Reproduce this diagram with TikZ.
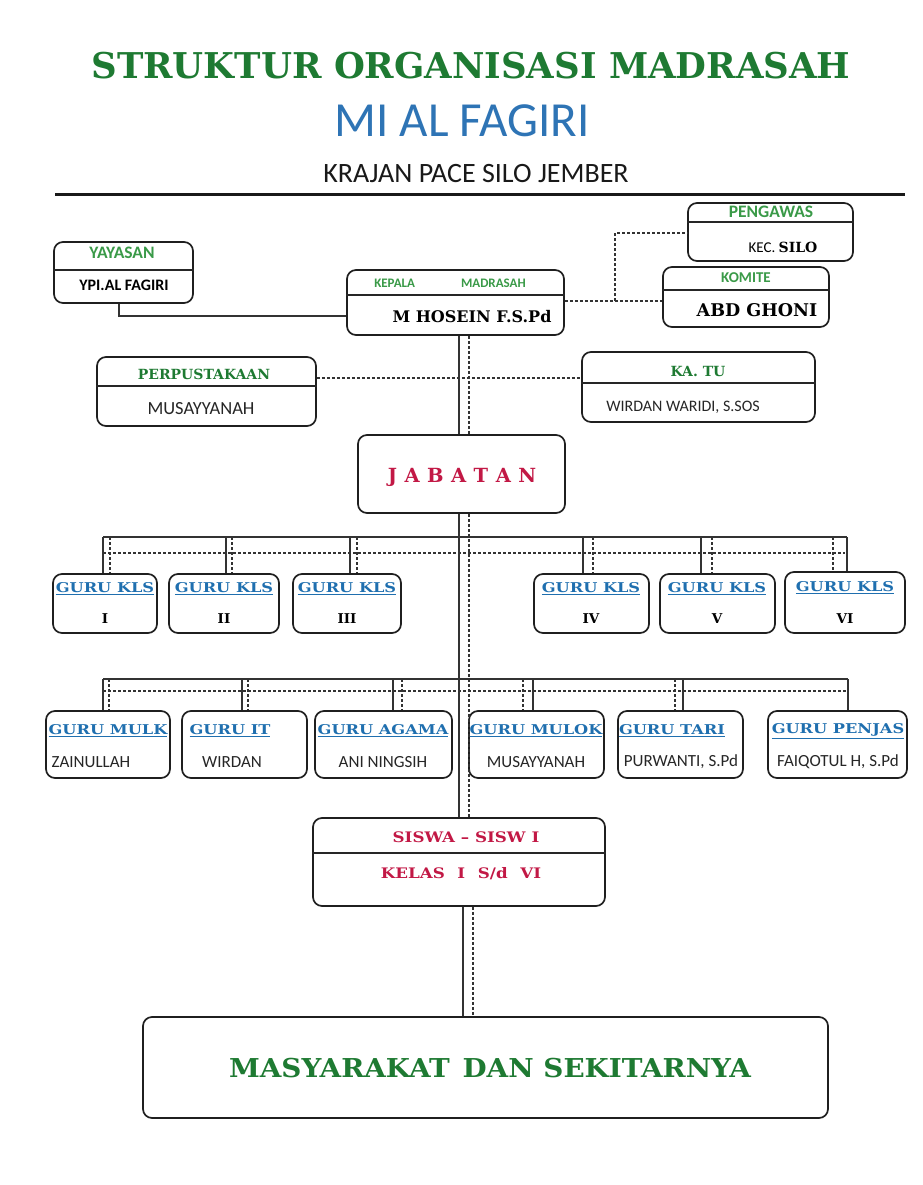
\documentclass[tikz,border=0pt]{standalone}
\usepackage{fontspec}
\setmainfont{Carlito}
\newfontfamily\hdfont{DejaVu Serif}
\definecolor{dgreen}{HTML}{1E7A32}
\definecolor{lgreen}{HTML}{3A9A48}
\definecolor{tblue}{HTML}{2E74B5}
\definecolor{gblue}{HTML}{1F6FAF}
\definecolor{crim}{HTML}{C21845}
\newcommand{\obox}[5]{\node[orgbox, minimum width=#4pt-#2pt, minimum height=#5pt-#3pt] (#1) at ({(#2+#4)/2},{(#3+#5)/2}) {};}
\newcommand{\odiv}[2]{\draw[divl] (#1.west |- 0,#2) -- (#1.east |- 0,#2);}
\newcommand{\fs}[1]{\fontsize{#1}{#1}\selectfont}
\newcommand{\gh}[1]{\scalebox{1.2}[1]{\underline{#1}}}
\begin{document}
\begin{tikzpicture}[x=1pt,y=-1pt,
  orgbox/.style={draw=black!88, line width=1.7pt, rounded corners=9pt, fill=white, inner sep=0pt},
  divl/.style={draw=black!85, line width=1.4pt},
  conn/.style={draw=black!80, line width=1.3pt},
  dconn/.style={draw=black!80, line width=1.3pt, dash pattern=on 3pt off 2pt},
  gl/.style={text=lgreen, font=\bfseries\fs{17.5}, inner sep=0pt},
  bl/.style={text=black, font=\bfseries\fs{16}, inner sep=0pt},
  sn/.style={text=black!85, font=\fs{17}, inner sep=0pt},
  hvg/.style={text=dgreen, font=\hdfont\bfseries\fs{14}, inner sep=0pt},
  hvb/.style={text=black, font=\hdfont\bfseries\fs{16}, inner sep=0pt},
  hvr/.style={text=crim, font=\hdfont\bfseries\fs{14.5}, inner sep=0pt},
  ghead/.style={text=gblue, font=\hdfont\bfseries\fs{13.5}, inner sep=0pt},
  numt/.style={text=black, font=\hdfont\bfseries\fs{13.5}, inner sep=0pt}]
\useasboundingbox (0,0) rectangle (922,1185);
\fill[white] (0,0) rectangle (922,1185);

% titles
\node[text=dgreen, font=\hdfont\bfseries\fs{35.5}, inner sep=0pt] (title) at (471,66) {STRUKTUR ORGANISASI MADRASAH};
\node[text=tblue, font=\fs{49}, inner sep=0pt] (mi) at (462,121) {MI AL FAGIRI};
\node[text=black!90, font=\fs{28}, inner sep=0pt] (kr) at (476,174) {KRAJAN PACE SILO JEMBER};
\draw[line width=3pt, black!90] (55,195) -- (905,195);

\coordinate (j1) at (615,301);
\coordinate (mv1) at (459,0);
\coordinate (mv2) at (469,0);
\coordinate (mv3) at (463,0);
\coordinate (mv4) at (473,0);

% top boxes
\obox{yay}{54}{242}{193}{303}\odiv{yay}{270}
\node[gl] (yayT) at (122,253) {YAYASAN};
\node[bl] (yayB) at (124,285) {YPI.AL FAGIRI};

\obox{kep}{347}{270}{564}{335}\odiv{kep}{295}
\node[gl, font=\bfseries\fs{13}] (kepT) at (450,283) {KEPALA\hspace{46pt}MADRASAH};
\node[hvb] (kepB) at (472,317) {M HOSEIN F.S.Pd};

\obox{pen}{688}{203}{853}{261}\odiv{pen}{222}
\node[gl] (penT) at (771,212) {PENGAWAS};
\node[inner sep=0pt] (penB) at (783,247) {\fs{15}KEC. {\hdfont\bfseries\fs{14}SILO}};

\obox{kom}{663}{267}{829}{327}\odiv{kom}{290}
\node[gl, font=\bfseries\fs{15}] (komT) at (746,278) {KOMITE};
\node[hvb, font=\hdfont\bfseries\fs{17.5}] (komB) at (757,310) {ABD GHONI};

\draw[conn] (yay.south -| 119,0) |- (kep.west |- 0,316);
\draw[dconn] (kep.east |- j1) -- (kom.west |- j1);
\draw[dconn] (j1) |- (pen.west |- 0,233);

\obox{perp}{97}{357}{316}{426}\odiv{perp}{386}
\node[hvg] (perpT) at (204,374) {PERPUSTAKAAN};
\node[sn, font=\fs{18.5}] (perpB) at (201,409) {MUSAYYANAH};

\obox{katu}{582}{352}{815}{422}\odiv{katu}{383}
\node[hvg] (katuT) at (698,371) {KA. TU};
\node[sn, font=\fs{16}] (katuB) at (683,407) {WIRDAN WARIDI, S.SOS};

\obox{jab}{358}{435}{565}{513}
\node[text=crim, font=\hdfont\bfseries\fs{19.5}, inner sep=0pt] (jabT) at (462,477) {J\hspace{7.5pt}A\hspace{7.5pt}B\hspace{7.5pt}A\hspace{7.5pt}T\hspace{7.5pt}A\hspace{7.5pt}N};

\draw[dconn] (perp.east |- 0,378) -- (katu.west |- 0,378);
\draw[conn] (kep.south -| mv1) -- (jab.north -| mv1);
\draw[dconn] (kep.south -| mv2) -- (jab.north -| mv2);

% row 1
\obox{k1}{53}{574}{157}{633}
\obox{k2}{169}{574}{279}{633}
\obox{k3}{293}{574}{401}{633}
\obox{k4}{534}{574}{649}{633}
\obox{k5}{660}{574}{775}{633}
\obox{k6}{785}{572}{905}{633}
\node[ghead] (k1T) at (105,589) {\gh{GURU KLS}};
\node[ghead] (k2T) at (224,589) {\gh{GURU KLS}};
\node[ghead] (k3T) at (347,589) {\gh{GURU KLS}};
\node[ghead] (k4T) at (591,589) {\gh{GURU KLS}};
\node[ghead] (k5T) at (717,589) {\gh{GURU KLS}};
\node[ghead] (k6T) at (845,588) {\gh{GURU KLS}};
\node[numt] (k1B) at (105,619) {I};
\node[numt] (k2B) at (224,619) {II};
\node[numt] (k3B) at (347,619) {III};
\node[numt] (k4B) at (591,619) {IV};
\node[numt] (k5B) at (717,619) {V};
\node[numt] (k6B) at (845,619) {VI};

\coordinate (r1a) at (103,537);
\coordinate (r1b) at (847,537);
\coordinate (r1c) at (103,553);
\coordinate (r1d) at (845,553);
\draw[conn] (r1a) -- (r1b);
\draw[dconn] (r1c) -- (r1d);
\foreach \x/\b in {103/k1,226/k2,350/k3,583/k4,701/k5,847/k6}
  \draw[conn] (\x,537) -- (\x,537 |- \b.north);
\foreach \x/\b in {110/k1,232/k2,357/k3,593/k4,712/k5,833/k6}
  \draw[dconn] (\x,537) -- (\x,537 |- \b.north);

% row 2
\obox{m1}{46}{711}{170}{778}
\obox{m2}{182}{711}{307}{778}
\obox{m3}{315}{711}{452}{778}
\obox{m4}{469}{711}{604}{778}
\obox{m5}{618}{711}{743}{778}
\obox{m6}{768}{711}{907}{778}
\node[ghead] (m1T) at (108,731) {\gh{GURU MULK}};
\node[ghead] (m2T) at (230,731) {\gh{GURU IT}};
\node[ghead] (m3T) at (383,731) {\gh{GURU AGAMA}};
\node[ghead] (m4T) at (536,731) {\gh{GURU MULOK}};
\node[ghead] (m5T) at (672,731) {\gh{GURU TARI}};
\node[ghead] (m6T) at (838,731) {\gh{GURU PENJAS}};
\node[sn] (m1B) at (91,762) {ZAINULLAH};
\node[sn] (m2B) at (232,762) {WIRDAN};
\node[sn] (m3B) at (383,762) {ANI NINGSIH};
\node[sn] (m4B) at (536,762) {MUSAYYANAH};
\node[sn] (m5B) at (681,762) {PURWANTI, S.Pd};
\node[sn] (m6B) at (838,762) {FAIQOTUL H, S.Pd};

\coordinate (r2a) at (103,679);
\coordinate (r2b) at (848,679);
\coordinate (r2c) at (103,691);
\coordinate (r2d) at (848,691);
\draw[conn] (r2a) -- (r2b);
\draw[dconn] (r2c) -- (r2d);
\foreach \x/\b in {103/m1,242/m2,393/m3,533/m4,683/m5,848/m6}
  \draw[conn] (\x,679) -- (\x,679 |- \b.north);
\foreach \x/\b in {109/m1,248/m2,402/m3,523/m4,675/m5}
  \draw[dconn] (\x,679) -- (\x,679 |- \b.north);

% siswa
\obox{sis}{313}{818}{605}{906}\odiv{sis}{853}
\node[hvr] (sisT) at (466,837) {\scalebox{1.15}[1]{SISWA – SISW I}};
\node[hvr] (sisB) at (461,874) {\scalebox{1.15}[1]{KELAS\hspace{11pt}I\hspace{11pt}S/d\hspace{11pt}VI}};

\draw[conn] (jab.south -| mv1) -- (sis.north -| mv1);
\draw[dconn] (jab.south -| mv2) -- (sis.north -| mv2);

% masyarakat
\obox{mas}{143}{1017}{828}{1118}
\node[text=dgreen, font=\hdfont\bfseries\fs{26}, inner sep=0pt] (masT) at (490,1068) {\scalebox{1.07}[1]{MASYARAKAT\hspace{12pt}DAN SEKITARNYA}};
\draw[conn] (sis.south -| mv3) -- (mas.north -| mv3);
\draw[dconn] (sis.south -| mv4) -- (mas.north -| mv4);
\end{tikzpicture}
\end{document}
